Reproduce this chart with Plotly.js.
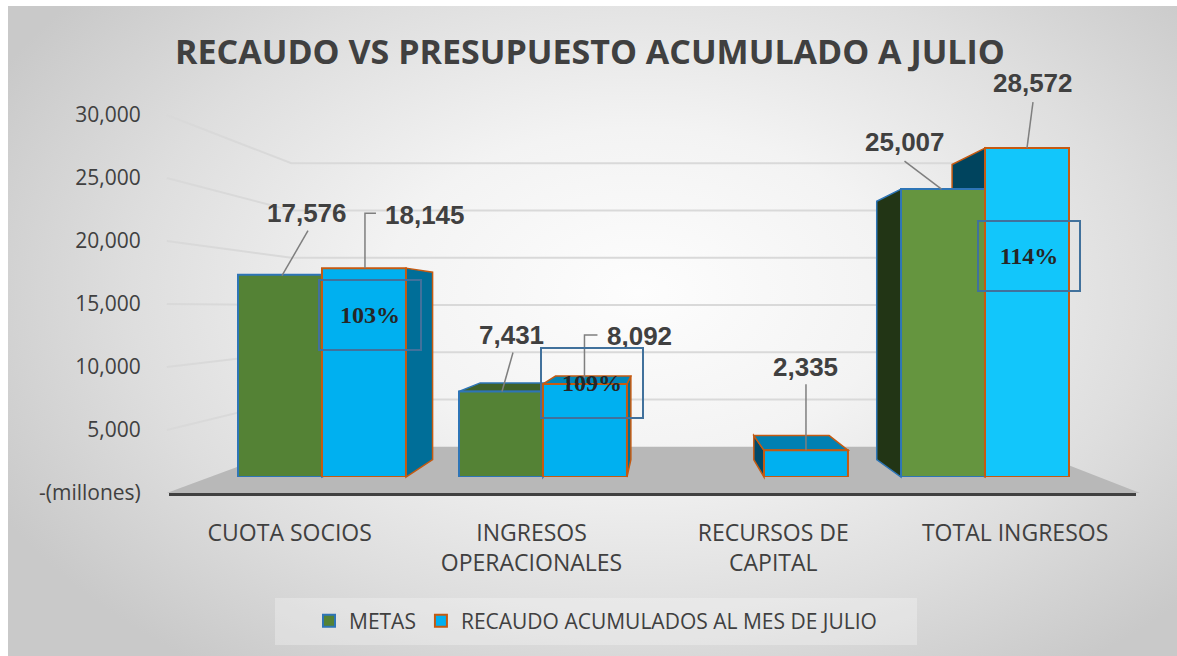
<!DOCTYPE html>
<html><head><meta charset="utf-8">
<script src="https://cdn.plot.ly/plotly-3.0.1.min.js"></script>
<style>
html,body{margin:0;padding:0;background:#ffffff;overflow:hidden;}
#panel{position:absolute;left:8px;top:6px;width:1169px;height:650px;
 background:radial-gradient(ellipse 62% 72% at 54% 44%, #fdfdfd 0%, #f3f3f3 35%, #dedede 70%, #c9c9c9 100%);}
#chart{position:absolute;left:0;top:0;width:1177px;height:656px;}
</style></head><body><div id="panel"></div><div id="chart"></div>
<script>
// ---------- data ----------
const categories = ['CUOTA SOCIOS', 'INGRESOS<br>OPERACIONALES', 'RECURSOS DE<br>CAPITAL', 'TOTAL INGRESOS'];
const metas = [17576, 7431, null, 25007];
const recaudo = [18145, 8092, 2335, 28572];
const seriesNames = ['METAS', 'RECAUDO ACUMULADOS AL MES DE JULIO'];
const tickValues = [0, 5000, 10000, 15000, 20000, 25000, 30000];
const tickLabels = ['-(millones)', '5,000', '10,000', '15,000', '20,000', '25,000', '30,000'];
const chartTitle = 'RECAUDO VS PRESUPUESTO ACUMULADO A JULIO';

// ---------- geometry (pseudo 3D perspective) ----------
const W = 1177, H = 656;
const VX = 665, VY = 308;            // vanishing point
const FX0 = 289.7, FDX = 241.8;      // front plane: category centre / spacing
const FY0 = 493, FS = 0.0126;        // front plane: zero line / px per unit
const KB = 0.914, KBB = 0.82, KW = 0.75; // depth factors: bar front, bar back, walls
const YMAX = 35000;
const BARGAP = 0.24, BW = (1 - BARGAP) / 2;

const catF = u => FX0 + u * FDX;
const valF = v => FY0 - v * FS;
const proj = (xf, yf, k) => [VX + (xf - VX) * k, VY + (yf - VY) * k];
const P = p => [p[0] / W, 1 - p[1] / H];
const pt = (xf, yf, k) => P(proj(xf, yf, k));
const pathOf = pts => 'M' + pts.map(p => p[0].toFixed(5) + ',' + p[1].toFixed(5)).join('L') + 'Z';
const lineOf = pts => 'M' + pts.map(p => p[0].toFixed(5) + ',' + p[1].toFixed(5)).join('L');

// domains
const barL = proj(catF(-0.5), 0, KB)[0], barR = proj(catF(3.5), 0, KB)[0];
const barB = proj(0, valF(0), KB)[1], barT = proj(0, valF(YMAX), KB)[1];
const frL = catF(-0.5), frR = catF(3.5), frB = valF(0), frT = valF(YMAX);

const shapes = [];
// floor
shapes.push({type: 'path', xref: 'paper', yref: 'paper', layer: 'below',
  path: pathOf([pt(frL - 2, valF(0), 1), pt(frL - 2, valF(0), KW), pt(frR + 4, valF(0), KW), pt(frR + 4, valF(0), 1)]),
  fillcolor: '#b8b8b8', line: {width: 0}});
// grid lines on side wall and back wall
tickValues.slice(1).forEach(v => {
  const a = pt(frL - 2, valF(v), 1), b = pt(frL - 2, valF(v), KW), c = pt(frR + 4, valF(v), KW);
  shapes.push({type: 'path', xref: 'paper', yref: 'paper', layer: 'below',
    path: lineOf([a, b, c]), line: {color: '#d9d9d9', width: 2}});
});

// 3D faces of bars
const lineCols = ['#2e75b6', '#c55a11'];
const sideCols = [['#223515', '#223515', '#223515', '#223515'], ['#006e98', '#006e98', '#004a6b', '#00445e']];
const topCols = [['#3f6129', '#3f6129', '#3f6129', '#3f6129'], ['#0086b8', '#0086b8', '#0080b2', '#0080b2']];
[metas, recaudo].forEach((arr, s) => {
  arr.forEach((v, i) => {
    if (v === null || v === undefined) return;
    const u0 = i - BW + s * BW, u1 = u0 + BW;
    const x0 = catF(u0), x1 = catF(u1), yt = valF(v), yb = valF(0);
    const lc = lineCols[s];
    const fr0 = proj(x0, yt, KB);
    // side face
    let xs = null;
    if (proj(x1, 0, KB)[0] < VX) xs = x1; else if (proj(x0, 0, KB)[0] > VX) xs = x0;
    if (xs !== null) {
      shapes.push({type: 'path', xref: 'paper', yref: 'paper', layer: 'below',
        path: pathOf([pt(xs, yt, KB), pt(xs, yt, KBB), pt(xs, yb, KBB), pt(xs, yb, KB)]),
        fillcolor: sideCols[s][i], line: {color: lc, width: 1.5}});
    }
    // top face (only visible below the horizon)
    if (fr0[1] > VY) {
      shapes.push({type: 'path', xref: 'paper', yref: 'paper', layer: 'below',
        path: pathOf([pt(x0, yt, KB), pt(x1, yt, KB), pt(x1, yt, KBB), pt(x0, yt, KBB)]),
        fillcolor: topCols[s][i], line: {color: lc, width: 1.5}});
    }
  });
});

// legend box
shapes.push({type: 'rect', xref: 'paper', yref: 'paper', layer: 'below',
  x0: 275 / W, x1: 917 / W, y0: 1 - 645 / H, y1: 1 - 598 / H,
  fillcolor: 'rgba(255,255,255,0.28)', line: {width: 0}});

// ---------- data labels ----------
const labelLayout = [
  [{dx: 27, dy: -62, leader: [[28, -44], [2, 1]]},
   {dx: 11, dy: -57, leader: [[12, -39], [1, 0]]},
   null,
   {dx: -38.5, dy: -47, leader: [[-38.5, -28], [-1.5, 0]]}],
  [{dx: 61, dy: -53, leader: [[12, -55], [1, -55], [1, 0]]},
   {dx: 54.5, dy: -48, leader: [[12.5, -49], [-0.5, -49], [-0.5, -6]]},
   {dx: 0, dy: -83, leader: [[0, -66], [0, 0]]},
   {dx: 6, dy: -65, leader: [[6, -46], [0, 0]]}]
];
const pctLayout = [[6, 47], [7.5, -1], null, [2, 108]];

const annotations = [];
const topCentre = (s, i, v) => {
  const uc = i - BW + s * BW + BW / 2;
  return proj(catF(uc), valF(v), KB);
};
[metas, recaudo].forEach((arr, s) => {
  arr.forEach((v, i) => {
    const L = labelLayout[s][i];
    if (v === null || !L) return;
    const c = topCentre(s, i, v);
    annotations.push({xref: 'paper', yref: 'paper', x: (c[0] + L.dx) / W, y: 1 - (c[1] + L.dy) / H,
      text: v.toLocaleString('en-US'), showarrow: false, xanchor: 'center', yanchor: 'middle',
      font: {family: 'Liberation Sans, Arial, sans-serif', size: 26, color: '#404040', weight: 'bold'}});
    shapes.push({type: 'path', xref: 'paper', yref: 'paper', layer: 'above',
      path: lineOf(L.leader.map(d => P([c[0] + d[0], c[1] + d[1]]))),
      line: {color: '#7f7f7f', width: 1.5}});
  });
});
recaudo.forEach((v, i) => {
  const m = metas[i], L = pctLayout[i];
  if (m === null || !L) return;
  const c = topCentre(1, i, v);
  annotations.push({xref: 'paper', yref: 'paper', x: (c[0] + L[0]) / W, y: 1 - (c[1] + L[1]) / H,
    text: Math.round(v / m * 100) + '%', showarrow: false, xanchor: 'center', yanchor: 'middle',
    width: 98, height: 66, borderpad: 1, bordercolor: '#41719c', borderwidth: 2,
    font: {family: 'Liberation Serif, Times New Roman, serif', size: 24, color: '#262626', weight: 'bold'}});
});

// ---------- traces ----------
const traces = [
  {type: 'bar', name: seriesNames[0], x: categories, y: metas, xaxis: 'x', yaxis: 'y',
   marker: {color: ['#548235', '#548235', '#548235', '#65953f'], line: {color: '#2e75b6', width: 2}},
   hoverinfo: 'skip'},
  {type: 'bar', name: seriesNames[1], x: categories, y: recaudo, xaxis: 'x', yaxis: 'y',
   marker: {color: ['#00b0f0', '#00b0f0', '#00b0f0', '#12c6fb'], line: {color: '#c55a11', width: 2}},
   hoverinfo: 'skip'},
  {type: 'scatter', mode: 'markers', x: categories, y: [0, 0, 0, 0], xaxis: 'x2', yaxis: 'y2',
   marker: {opacity: 0}, showlegend: false, hoverinfo: 'skip'}
];

const layout = {
  width: W, height: H,
  margin: {l: 0, r: 0, t: 0, b: 0, pad: 0},
  paper_bgcolor: 'rgba(0,0,0,0)', plot_bgcolor: 'rgba(0,0,0,0)',
  title: {text: chartTitle, x: 590 / W, xanchor: 'center', y: 1 - 52 / H, yanchor: 'middle',
    font: {family: 'Open Sans, sans-serif', size: 34, color: '#404040', weight: 'bold'}},
  barmode: 'group', bargap: BARGAP, bargroupgap: 0,
  xaxis: {domain: [barL / W, barR / W], range: [-0.5, 3.5], visible: false, type: 'category',
    categoryarray: categories, fixedrange: true},
  yaxis: {domain: [1 - barB / H, 1 - barT / H], range: [0, YMAX], visible: false, fixedrange: true},
  xaxis2: {domain: [frL / W, frR / W], range: [-0.5, 3.5], type: 'category', categoryarray: categories,
    anchor: 'y2', showgrid: false, zeroline: false, showline: true, linecolor: '#404040', linewidth: 3,
    ticks: '', ticklabelstandoff: 17,
    tickfont: {family: 'Open Sans, sans-serif', size: 23, color: '#404040'}, fixedrange: true},
  yaxis2: {domain: [1 - frB / H, 1 - frT / H], range: [0, YMAX], anchor: 'x2', showgrid: false,
    zeroline: false, showline: false, ticks: '', tickvals: tickValues, ticktext: tickLabels,
    ticklabelstandoff: 27,
    tickfont: {family: 'Open Sans, sans-serif', size: 21, color: '#404040'}, fixedrange: true},
  showlegend: true,
  legend: {orientation: 'h', x: 309 / W, xanchor: 'left', y: 1 - 621 / H, yanchor: 'middle',
    bgcolor: 'rgba(0,0,0,0)', font: {family: 'Open Sans, sans-serif', size: 21, color: '#404040'}},
  shapes: shapes,
  annotations: annotations
};

Plotly.newPlot('chart', traces, layout, {displayModeBar: false, staticPlot: true});
</script></body></html>
